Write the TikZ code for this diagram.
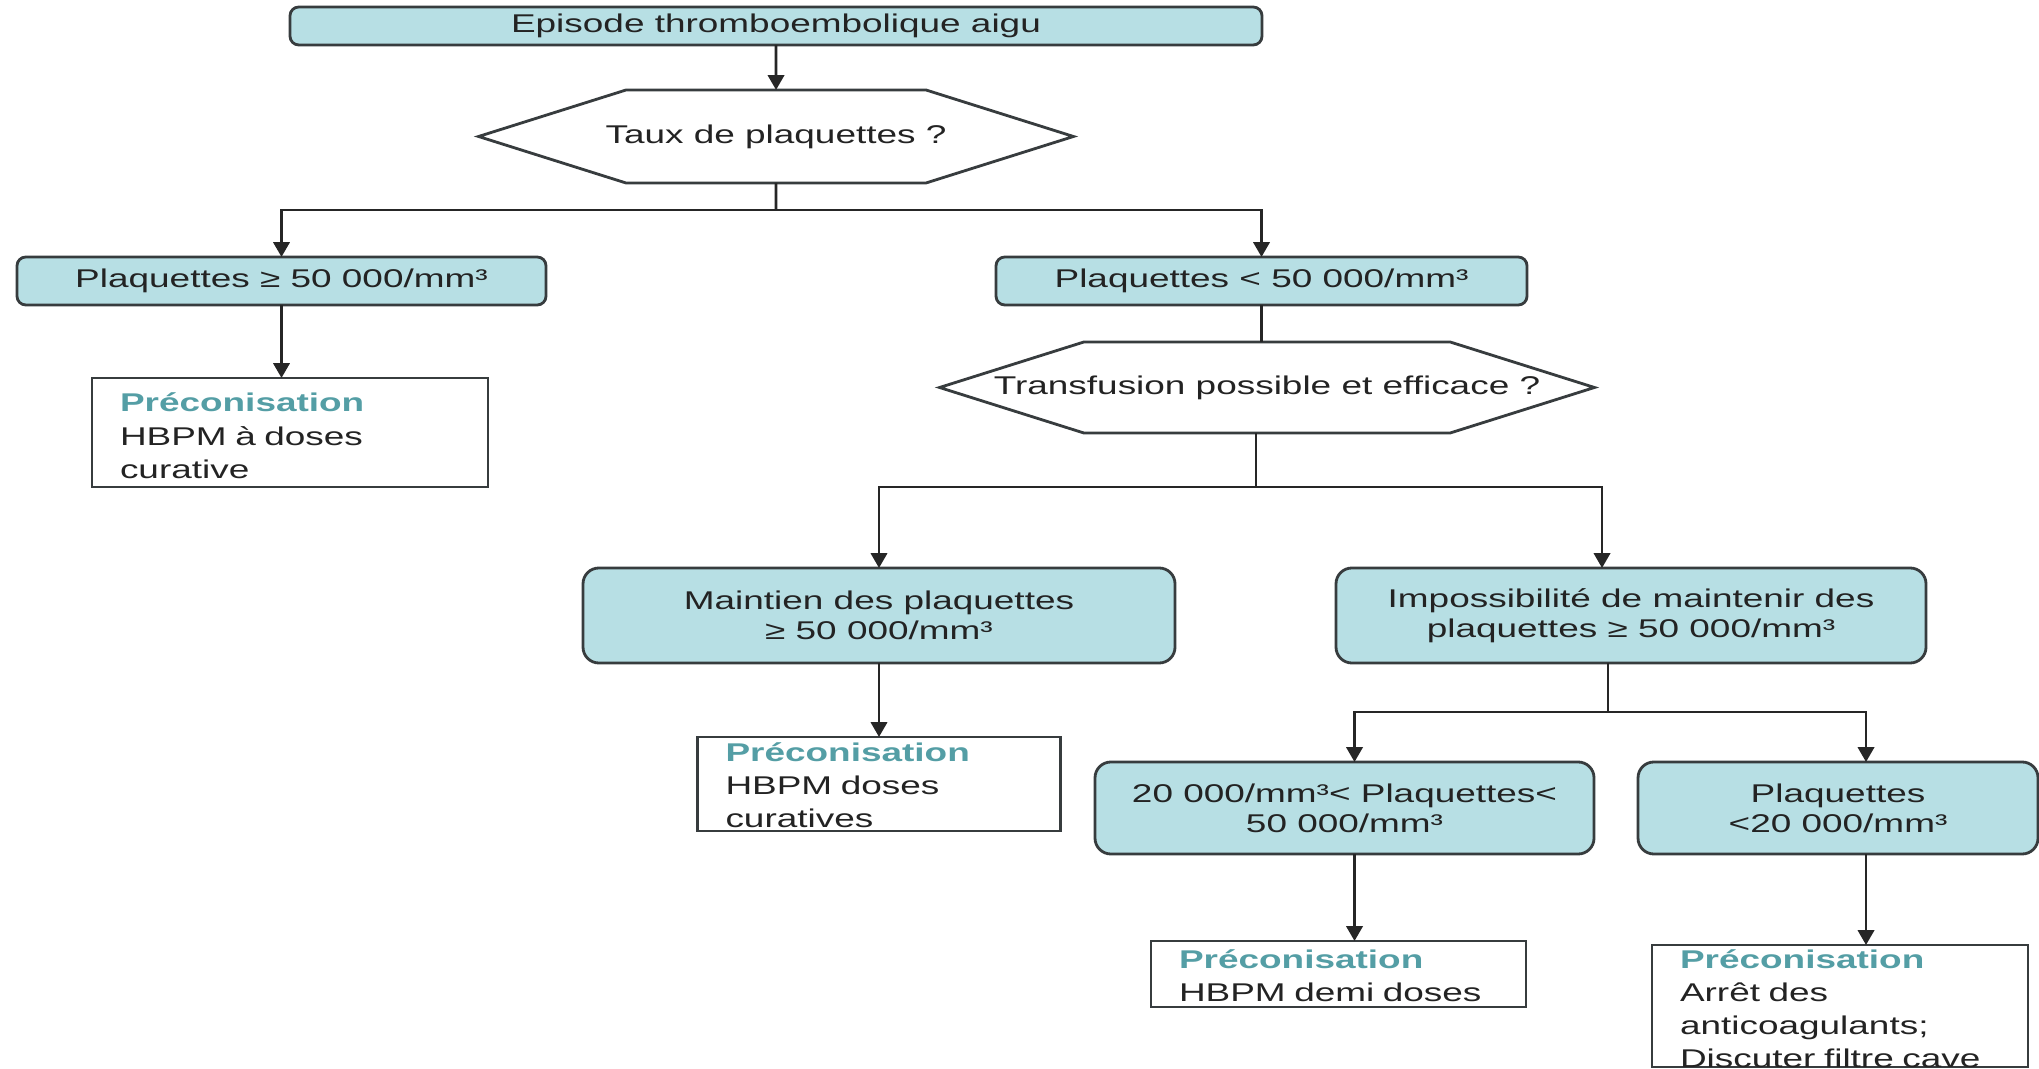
\documentclass[tikz,border=0pt]{standalone}
\usepackage{fontspec}
\setmainfont{Liberation Sans}[FakeStretch=1.44]
\usepackage{tikz}
\usetikzlibrary{shapes.symbols,arrows.meta,positioning}
\definecolor{nodeteal}{RGB}{183,223,228}
\definecolor{edgegray}{RGB}{55,60,62}
\definecolor{accentteal}{RGB}{84,158,165}
\definecolor{textdark}{RGB}{35,35,35}
\tikzset{
  box/.style  ={rectangle, rounded corners=2.5pt, draw=edgegray, fill=nodeteal, line width=0.8pt,
                align=center, inner sep=0pt, outer sep=0pt, text=textdark,
                font=\fontsize{7.3pt}{8.6pt}\selectfont},
  bbox/.style ={box, rounded corners=4.5pt},
  dec/.style  ={signal, signal to=east and west, signal pointer angle=35, draw=edgegray, fill=white,
                line width=0.8pt, inner sep=0pt, outer sep=0pt, text=textdark,
                font=\fontsize{7.3pt}{8.6pt}\selectfont},
  rec/.style  ={rectangle, draw=edgegray, fill=white, line width=0.8pt, inner xsep=0.28cm, inner ysep=0pt,
                outer sep=0pt, align=left, text=textdark, font=\fontsize{7.3pt}{9.4pt}\selectfont},
  flow/.style ={-{Triangle[length=4.2pt,width=4.6pt]}, line width=0.8pt, draw=black!85},
  flowl/.style={line width=0.8pt, draw=black!85}
}
\begin{document}
\begin{tikzpicture}
\useasboundingbox (0,0) rectangle (20.39,-10.69);
\node[box, minimum width=9.72cm, minimum height=0.38cm] (a) at (7.76,-0.26) {Episode thromboembolique aigu};
\node[dec, inner xsep=-0.205cm, minimum height=0.93cm, below=0.45cm of a] (b) {Taux de plaquettes ?};
\node[box, minimum width=5.29cm, minimum height=0.48cm] (c) at (2.815,-2.81) {Plaquettes ≥ 50 000/mm³};
\node[box, minimum width=5.31cm, minimum height=0.48cm] (d) at (12.615,-2.81) {Plaquettes < 50 000/mm³};
\node[rec, text width=3.40cm, text height=0.34cm, text depth=0.75cm, below=0.73cm of c, xshift=0.085cm] (e)
  {\textcolor{accentteal}{\textbf{Préconisation}}\\HBPM à doses\\curative};
\node[dec, inner xsep=-0.90cm, minimum height=0.91cm] (f) at (12.67,-3.875) {Transfusion possible et efficace ?};
\node[bbox, minimum width=5.92cm, minimum height=0.95cm] (g) at (8.79,-6.155) {Maintien des plaquettes\\≥ 50 000/mm³};
\node[bbox, minimum width=5.90cm, minimum height=0.95cm] (h) at (16.31,-6.155) {Impossibilité de maintenir des\\plaquettes ≥ 50 000/mm³};
\node[rec, text width=3.07cm, text height=0.24cm, text depth=0.70cm, below=0.74cm of g] (i)
  {\textcolor{accentteal}{\textbf{Préconisation}}\\HBPM doses\\curatives};
\node[bbox, minimum width=4.99cm, minimum height=0.92cm] (j) at (13.445,-8.08) {20 000/mm³< Plaquettes<\\50 000/mm³};
\node[bbox, minimum width=4.00cm, minimum height=0.92cm] (k) at (18.38,-8.08) {Plaquettes\\<20 000/mm³};
\node[rec, text width=3.19cm, text height=0.27cm, text depth=0.39cm, below=0.87cm of j, xshift=-0.06cm] (l)
  {\textcolor{accentteal}{\textbf{Préconisation}}\\HBPM demi doses};
\node[rec, text width=3.20cm, text height=0.23cm, text depth=0.99cm, below=0.91cm of k, xshift=0.02cm] (m)
  {\textcolor{accentteal}{\textbf{Préconisation}}\\Arrêt des\\anticoagulants;\\Discuter filtre cave};

\coordinate[below=0.27cm of b.south] (b0);
\coordinate[below=0.54cm of f.south, xshift=-0.11cm] (f0);
\coordinate[below=0.49cm of h.south, xshift=-0.23cm] (h0);

\draw[flow] (a) -- (b);
\draw[flowl] (b) -- (b0);
\draw[flow] (b0) -| (c);
\draw[flow] (b0) -| (d);
\draw[flow] (c) -- (c |- e.north);
\draw[flowl] (d) -- (d |- f.north);
\draw[flowl] ([xshift=-0.11cm]f.south) -- (f0);
\draw[flow] (f0) -| (g);
\draw[flow] (f0) -| ([xshift=-0.29cm]h.north);
\draw[flow] (g) -- (i);
\draw[flowl] ([xshift=-0.23cm]h.south) -- (h0);
\draw[flow] (h0) -| ([xshift=0.1cm]j.north);
\draw[flow] (h0) -| ([xshift=0.28cm]k.north);
\draw[flow] ([xshift=0.1cm]j.south) -- ([xshift=0.1cm]j.south |- l.north);
\draw[flow] ([xshift=0.28cm]k.south) -- ([xshift=0.28cm]k.south |- m.north);
\end{tikzpicture}
\end{document}
